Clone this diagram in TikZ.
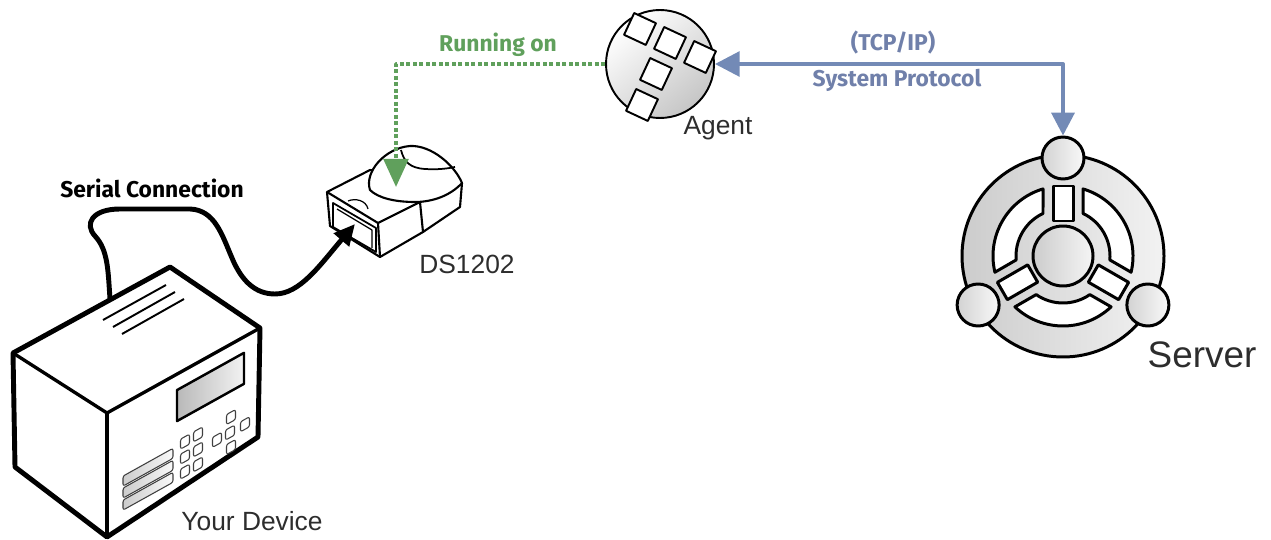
\documentclass[tikz,border=0pt]{standalone}
\usepackage{fontspec}
\setmainfont{Liberation Sans}
\newfontfamily\tagfont{Fira Sans}
\usetikzlibrary{arrows.meta}

\definecolor{rungreen}{RGB}{96,160,92}
\definecolor{protoblue}{RGB}{115,138,182}
\definecolor{protolabel}{RGB}{112,128,170}
\definecolor{captiongray}{RGB}{45,45,45}

\begin{document}
\begin{tikzpicture}[x=0.02cm,y=-0.02cm,line join=round]
    \tikzstyle{caption}=[text=captiongray,font=\fontsize{15}{15}\selectfont,inner sep=0pt]
    \tikzstyle{tag}=[font=\tagfont\bfseries\fontsize{13}{13}\selectfont,inner sep=0pt]
    \tikzstyle{outline}=[draw=black,line width=2.8pt]
    \tikzstyle{edge}=[draw=black,line width=1.9pt]
    \tikzstyle{key}=[draw=black!75,line width=0.6pt,fill=white,rounded corners=1.2pt]
    \tikzstyle{slot}=[draw=black!75,line width=0.6pt,left color=gray!40,right color=gray!5,rounded corners=1.2pt]
    \tikzstyle{tile}=[rectangle,draw=black,line width=1.1pt,fill=white,minimum size=0.48cm,inner sep=0pt,rotate=-25]
    \tikzstyle{knob}=[circle,draw=black,line width=1.7pt,inner sep=0pt,minimum size=0.84cm,left color=gray!35,right color=gray!5]
    \tikzstyle{ring}=[draw=black,line width=1.7pt]
    \tikzstyle{cable}=[line width=2.8pt,-{Triangle[length=12pt,width=11pt]}]
    \tikzstyle{running}=[rungreen,line width=2.2pt,dash pattern=on 2.2pt off 1.5pt,-{Triangle[length=16pt,width=14pt]}]
    \tikzstyle{proto}=[protoblue,line width=2.2pt,{Triangle[length=13pt,width=13pt]}-{Triangle[length=14pt,width=14pt]}]

    \useasboundingbox (0,0) rectangle (1271,540);

    % your device
    \filldraw[fill=white,outline] (13,353) -- (170,267) -- (260,328) -- (258,437) -- (107,537) -- (15,467) -- cycle;
    \draw[edge] (13,353) -- (107,413) -- (260,328);
    \draw[edge] (107,413) -- (107,537);
    \draw[line width=1.1pt] (103,320) -- (166,285);
    \draw[line width=1.1pt] (113,327) -- (175,292);
    \draw[line width=1.1pt] (122,334) -- (184,299);
    \coordinate (devport) at (110,299);
    \begin{scope}[shift={(107,413)},yslant=0.556]
        \draw[line width=1.4pt,left color=gray!55,right color=gray!10] (70,16) rectangle (137,47);
        \foreach \u in {78,91}
            \foreach \v in {72,87,102}
                \draw[key] (\u-4.5,\v-5) rectangle (\u+4.5,\v+5);
        \foreach \u/\v in {124/73,123/88,124/103,110/88,138/88}
            \draw[key] (\u-4.5,\v-5) rectangle (\u+4.5,\v+5);
        \foreach \v in {72,84,96}
            \draw[slot] (16,\v) rectangle (66,\v+10);
    \end{scope}

    % DS1202 adapter
    \filldraw[fill=white,line width=1.2pt] (327,192) -- (370,170) -- (462,183) -- (460,207) -- (423,232) -- (380,257) -- (330,226) -- cycle;
    \draw[line width=1.2pt] (327,192) -- (378,223) -- (380,257);
    \draw[line width=1.2pt] (378,223) -- (420,202) -- (423,232);
    \draw[line width=1.2pt] (420,202) -- (462,183);
    \draw[line width=1pt] (333,203) -- (376,228) -- (376,252) -- (333,227) -- cycle;
    \draw[line width=0.7pt] (337,209) -- (372,230) -- (372,248);
    \draw[line width=0.7pt] (348,201) .. controls (355,198) and (366,200) .. (368,209);
    \filldraw[fill=white,line width=1.2pt] (370,190) .. controls (364,172) and (385,148) .. (410,146)
        .. controls (432,145) and (455,166) .. (462,183)
        .. controls (450,196) and (432,202) .. (415,202)
        .. controls (395,202) and (378,198) .. (370,190) -- cycle;
    \draw[line width=1pt] (401,150) .. controls (404,162) and (410,168) .. (425,169)
        .. controls (440,170) and (450,168) .. (455,167);
    \coordinate (dsslot) at (355,224);
    \coordinate (dsdome) at (396,187);

    % agent
    \node[circle,draw=black,line width=1.1pt,minimum size=2.16cm,inner sep=0pt,
        top color=white,bottom color=gray!45,shading angle=40] (agentico) at (660,64) {};
    \node[tile] (t1) at (640,29) {};
    \node[tile] (t2) at (670,43) {};
    \node[tile] (t3) at (700,57) {};
    \node[tile] (t4) at (656,74) {};
    \node[tile] (t5) at (642,105) {};

    % server
    \begin{scope}[shift={(1063,256)},y=0.02cm]
        \filldraw[ring,left color=gray!40,right color=gray!10] (0,0) circle (101);
        \foreach \a in {30,150,270}
            \filldraw[ring,fill=white] (\a-43.4:70) arc[start angle=\a-43.4,end angle=\a+43.4,radius=70]
                -- (\a+34.8:47) arc[start angle=\a+34.8,end angle=\a-34.8,radius=47] -- cycle;
        \foreach \a in {90,210,330}
            \filldraw[ring,fill=white,rotate=\a] (35,-10) rectangle (70,10);
        \filldraw[ring,left color=gray!40,right color=gray!8] (0,0) circle (30);
        \node[knob] (srvtop) at (90:98) {};
        \node[knob] (srvleft) at (210:98) {};
        \node[knob] (srvright) at (330:98) {};
    \end{scope}

    % connectors
    \draw[cable] (devport) .. controls (108,270) and (108,250) .. (95,236)
        .. controls (84,224) and (92,209) .. (120,209) -- (190,209)
        .. controls (215,210) and (222,235) .. (232,258)
        .. controls (242,282) and (256,294) .. (275,294)
        .. controls (300,294) and (320,265) .. (dsslot);
    \draw[running] (agentico.west) -| (dsdome);
    \draw[proto] (srvtop.north) |- (agentico.east);

    % labels
    \node[caption] (devlabel) at (252,521) {Your Device};
    \node[caption] (dslabel) at (467,264) {DS1202};
    \node[caption] (agentlabel) at (718,128) {Agent};
    \node[caption,font=\fontsize{21}{21}\selectfont] (srvlabel) at (1202,355) {Server};
    \node[tag] (seriallabel) at (152,188) {Serial Connection};
    \node[tag,text=rungreen] (runlabel) at (498,45) {Running on};
    \node[tag,text=protolabel] (tcplabel) at (893,43) {(TCP/IP)};
    \node[tag,text=protolabel] (syslabel) at (897,80) {System Protocol};
\end{tikzpicture}
\end{document}
